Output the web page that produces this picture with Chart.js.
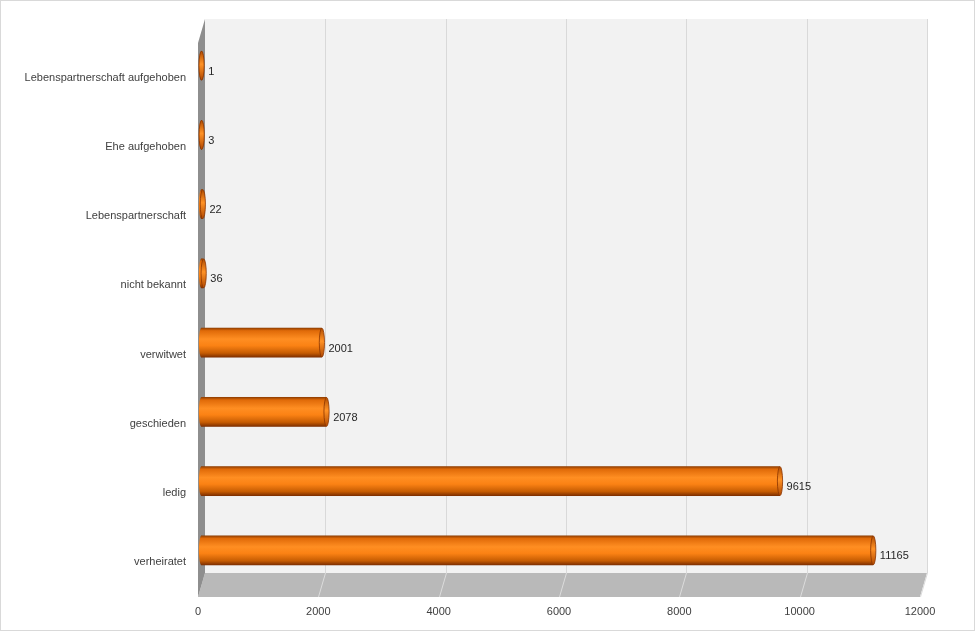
<!DOCTYPE html>
<html>
<head>
<meta charset="utf-8">
<script src="https://cdn.jsdelivr.net/npm/chart.js@4.4.0/dist/chart.umd.min.js"></script>
<style>
    html, body { margin: 0; padding: 0; background: #fff; }
    #wrap { width: 975px; height: 631px; }
</style>
</head>
<body>
<div id="wrap"><canvas id="famChart" width="975" height="631"></canvas></div>
<script>
// Familienstand (top to bottom as drawn)
const categories = ['Lebenspartnerschaft aufgehoben', 'Ehe aufgehoben', 'Lebenspartnerschaft', 'nicht bekannt', 'verwitwet', 'geschieden', 'ledig', 'verheiratet'];
const counts = [1, 3, 22, 36, 2001, 2078, 9615, 11165];
const xTicks = [0, 2000, 4000, 6000, 8000, 10000, 12000];

// depth of the 3D box
const DX = 7, DY = -24;

const boxPlugin = {
    id: 'box3d',
    beforeDatasetsDraw(chart) {
        const ctx = chart.ctx;
        const a = chart.chartArea;
        const xs = chart.scales.x;
        const x0 = xs.getPixelForValue(0), x1 = xs.getPixelForValue(12000);
        ctx.save();
        // back wall
        ctx.fillStyle = '#f2f2f2';
        ctx.fillRect(x0 + DX, a.top + DY, x1 - x0, a.bottom - a.top);
        // floor
        ctx.fillStyle = '#b9b9b9';
        ctx.beginPath();
        ctx.moveTo(x0, a.bottom);
        ctx.lineTo(x1, a.bottom);
        ctx.lineTo(x1 + DX, a.bottom + DY);
        ctx.lineTo(x0 + DX, a.bottom + DY);
        ctx.closePath();
        ctx.fill();
        // side wall
        ctx.fillStyle = '#8e8e8e';
        ctx.beginPath();
        ctx.moveTo(x0, a.top);
        ctx.lineTo(x0 + DX, a.top + DY);
        ctx.lineTo(x0 + DX, a.bottom + DY);
        ctx.lineTo(x0, a.bottom);
        ctx.closePath();
        ctx.fill();
        // grid lines
        ctx.lineWidth = 1;
        xTicks.forEach(v => {
            if (v === 0) return;
            const px = Math.round(xs.getPixelForValue(v)) + 0.5;
            ctx.strokeStyle = '#d9d9d9';
            ctx.beginPath();
            ctx.moveTo(px + DX, a.top + DY);
            ctx.lineTo(px + DX, a.bottom + DY);
            ctx.stroke();
            ctx.strokeStyle = '#dcdcdc';
            ctx.beginPath();
            ctx.moveTo(px + DX, a.bottom + DY);
            ctx.lineTo(px, a.bottom);
            ctx.stroke();
        });
        ctx.restore();
    },
    afterDatasetsDraw(chart) {
        const ctx = chart.ctx;
        const meta = chart.getDatasetMeta(0);
        ctx.save();
        meta.data.forEach((bar, i) => {
            const h = bar.height;
            const cy = bar.y + DY / 2;
            const xa = bar.base + DX / 2;
            const xb = bar.x + DX / 2;
            const top = cy - h / 2;
            const g = ctx.createLinearGradient(0, top, 0, top + h);
            g.addColorStop(0, '#8a3a00');
            g.addColorStop(0.1, '#e06a08');
            g.addColorStop(0.38, '#ff8e22');
            g.addColorStop(0.6, '#fb8214');
            g.addColorStop(0.85, '#c65c02');
            g.addColorStop(1, '#7a2c00');
            const rx = 2.6;
            // start cap
            ctx.fillStyle = g;
            ctx.beginPath();
            ctx.ellipse(xa, cy, rx, h / 2, 0, 0, Math.PI * 2);
            ctx.fill();
            // body
            ctx.fillRect(xa, top, xb - xa, h);
            // end cap
            const gc = ctx.createLinearGradient(0, top, 0, top + h);
            gc.addColorStop(0, '#b04c00');
            gc.addColorStop(0.45, '#ff9226');
            gc.addColorStop(1, '#b04800');
            ctx.fillStyle = gc;
            ctx.strokeStyle = '#8a3400';
            ctx.lineWidth = 0.8;
            ctx.beginPath();
            ctx.ellipse(xb, cy, rx, h / 2 - 0.4, 0, 0, Math.PI * 2);
            ctx.fill();
            ctx.stroke();
            // value label
            ctx.fillStyle = '#262626';
            ctx.font = '11px "Liberation Sans", Arial, sans-serif';
            ctx.textAlign = 'left';
            ctx.textBaseline = 'middle';
            ctx.fillText(String(counts[i]), xb + rx + 4, cy + 6);
        });
        ctx.restore();
    },
    afterDraw(chart) {
        const ctx = chart.ctx;
        ctx.save();
        ctx.strokeStyle = '#d9d9d9';
        ctx.lineWidth = 1;
        ctx.strokeRect(0.5, 0.5, chart.width - 1, chart.height - 1);
        ctx.restore();
    }
};

new Chart(document.getElementById('famChart'), {
    type: 'bar',
    data: {
        labels: categories,
        datasets: [{
            data: counts,
            backgroundColor: 'rgba(0,0,0,0)',
            borderWidth: 0,
            barPercentage: 0.43,
            categoryPercentage: 1
        }]
    },
    options: {
        indexAxis: 'y',
        responsive: false,
        animation: false,
        events: [],
        layout: { padding: { top: 43, right: 55, bottom: 0, left: 0 } },
        plugins: { legend: { display: false }, tooltip: { enabled: false } },
        scales: {
            x: {
                min: 0,
                max: 12000,
                afterBuildTicks(scale) { scale.ticks = xTicks.map(v => ({ value: v })); },
                afterFit(scale) { scale.height = 34; },
                grid: { display: false, drawTicks: false },
                border: { display: false },
                ticks: {
                    padding: 8,
                    color: '#404040',
                    font: { family: '"Liberation Sans", Arial, sans-serif', size: 11 },
                    callback: v => String(v)
                }
            },
            y: {
                afterFit(scale) { scale.width = 198; },
                grid: { display: false, drawTicks: false },
                border: { display: false },
                ticks: {
                    padding: 12,
                    color: '#404040',
                    font: { family: '"Liberation Sans", Arial, sans-serif', size: 11 }
                }
            }
        }
    },
    plugins: [boxPlugin]
});
</script>
</body>
</html>
